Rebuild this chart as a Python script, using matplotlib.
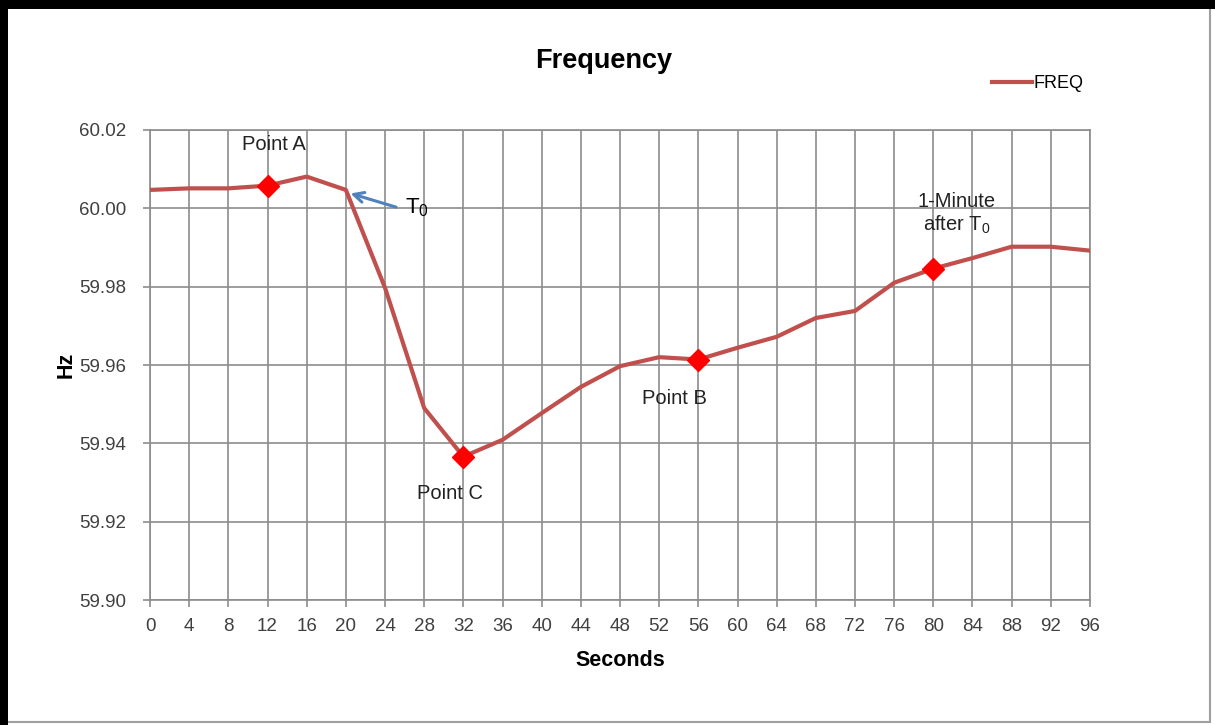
import matplotlib
matplotlib.use("Agg")
import matplotlib.pyplot as plt
from matplotlib.patches import Rectangle

plt.rcParams["font.family"] = ["Liberation Sans", "DejaVu Sans"]
plt.rcParams["mathtext.fontset"] = "custom"
plt.rcParams["mathtext.rm"] = "Liberation Sans"
plt.rcParams["mathtext.it"] = "Liberation Sans"

# data
seconds = [0, 4, 8, 12, 16, 20, 24, 28, 32, 36, 40, 44, 48,
           52, 56, 60, 64, 68, 72, 76, 80, 84, 88, 92, 96]
freq = [60.0047, 60.0051, 60.0051, 60.0058, 60.0081, 60.0047, 59.9797,
        59.9490, 59.9366, 59.9409, 59.9477, 59.9544, 59.9597, 59.9620,
        59.9614, 59.9644, 59.9672, 59.9720, 59.9738, 59.9810, 59.9846,
        59.9873, 59.9902, 59.9902, 59.9892]
marked_seconds = [12, 32, 56, 80]
x_ticks = list(range(0, 97, 4))
y_ticks = [59.90, 59.92, 59.94, 59.96, 59.98, 60.00, 60.02]

LINE_RED = "#C0504D"
GRID = "#8c8c8c"

fig = plt.figure(figsize=(12.15, 7.25), dpi=100)
ax = fig.add_axes([0.1235, 0.1724, 0.7736, 0.6483])

ax.plot(seconds, freq, color=LINE_RED, linewidth=3, label="FREQ", zorder=3)
mk_y = [freq[seconds.index(s)] for s in marked_seconds]
ax.plot(marked_seconds, mk_y, linestyle="none", marker="D", markersize=11,
        color="#ff0000", zorder=4)

ax.set_xlim(0, 96)
ax.set_ylim(59.90, 60.02)
ax.set_xticks(x_ticks)
ax.set_yticks(y_ticks)
ax.set_yticklabels([f"{v:.2f}" for v in y_ticks])
ax.grid(True, color=GRID, linewidth=1.2)
ax.set_axisbelow(True)
for sp in ax.spines.values():
    sp.set_color(GRID)
    sp.set_linewidth(1.2)
ax.tick_params(axis="both", colors=GRID, labelcolor="#404040", labelsize=13.5,
               length=5, width=1.2)
ax.tick_params(axis="x", pad=8)
ax.tick_params(axis="y", pad=12)

ax.set_xlabel("Seconds", fontsize=15.5, fontweight="bold", labelpad=11)
ax.set_ylabel("Hz", fontsize=15.5, fontweight="bold", labelpad=2)
fig.text(0.497, 0.916, "Frequency", fontsize=19.5, fontweight="bold",
         ha="center", va="center")

# annotations
ax.text(12.6, 60.0162, "Point A", fontsize=14.5, ha="center", va="center",
        color="#222222")
ax.text(30.6, 59.9273, "Point C", fontsize=14.5, ha="center", va="center",
        color="#222222")
ax.text(53.6, 59.9515, "Point B", fontsize=14.5, ha="center", va="center",
        color="#222222")
ax.text(82.4, 59.9986, "1-Minute\nafter T$_0$", fontsize=14.5, ha="center",
        va="center", linespacing=1.15, color="#222222")
ax.annotate("", xy=(20.2, 60.0040), xytext=(25.4, 60.0001),
            arrowprops=dict(arrowstyle="->", color="#4F81BD", lw=2.2,
                            mutation_scale=18))
ax.text(26.0, 60.0002, "T$_0$", fontsize=16, ha="left", va="center")

ax.legend(loc="center left", bbox_to_anchor=(0.803, 0.885),
          bbox_transform=fig.transFigure, frameon=False, fontsize=13,
          handlelength=2.2, handletextpad=0.1)

# outer frame of the picture
fig.patches.append(Rectangle((0.004, 0.004), 0.992, 0.990, transform=fig.transFigure,
                             fill=False, edgecolor="#a0a0a0", linewidth=1.5))
fig.patches.append(Rectangle((0.0, 0.0), 0.0066, 1.0, transform=fig.transFigure,
                             facecolor="black", edgecolor="none"))
fig.patches.append(Rectangle((0.0, 0.988), 1.0, 0.012, transform=fig.transFigure,
                             facecolor="black", edgecolor="none"))

fig.savefig("out.png", dpi=100)
